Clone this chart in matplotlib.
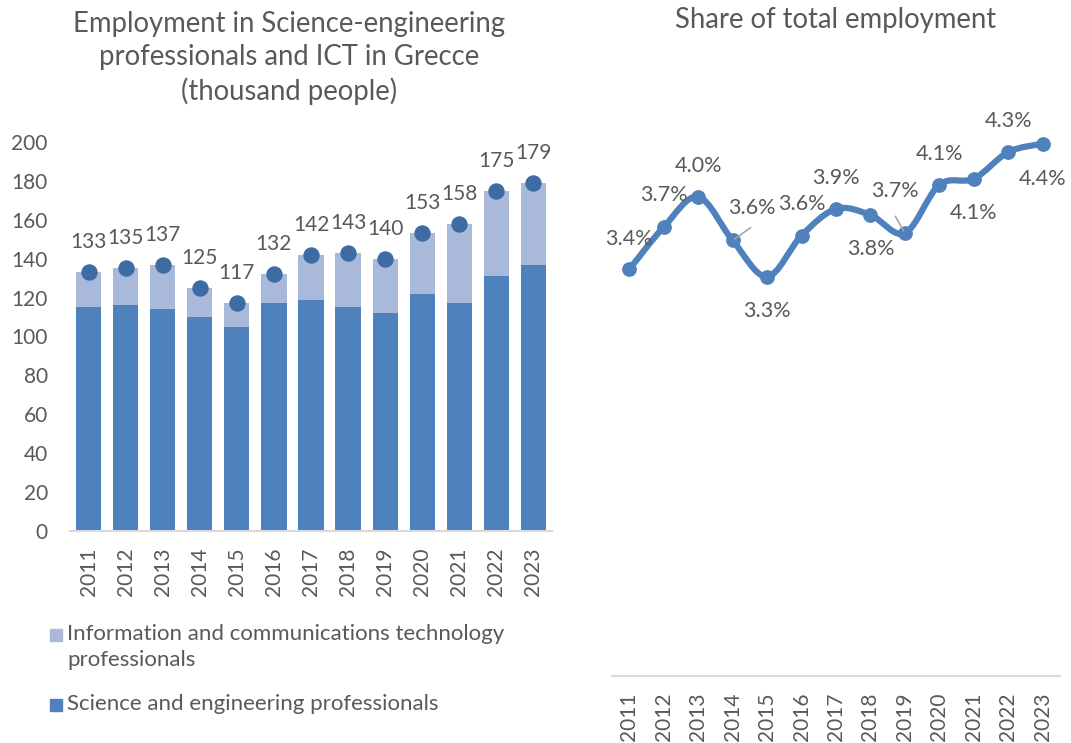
import matplotlib
matplotlib.use("Agg")
import matplotlib.pyplot as plt
from matplotlib.path import Path
from matplotlib.patches import PathPatch, Rectangle

plt.rcParams["font.family"] = ["Lato", "DejaVu Sans"]

TEXT = "#595959"
SE_COLOR = "#4F81BD"
ICT_COLOR = "#A9B9D9"
DOT_COLOR = "#3D6BA3"
AXIS_COLOR = "#D9D9D9"

years = ["2011", "2012", "2013", "2014", "2015", "2016", "2017",
         "2018", "2019", "2020", "2021", "2022", "2023"]
totals = [133, 135, 137, 125, 117, 132, 142, 143, 140, 153, 158, 175, 179]
science_eng = [115, 116, 114, 110, 105, 117, 119, 115, 112, 122, 117, 131, 137]
ict = [t - s for t, s in zip(totals, science_eng)]
share = [3.36, 3.71, 3.96, 3.60, 3.30, 3.64, 3.86, 3.81, 3.66, 4.06, 4.11, 4.33, 4.40]

# label offsets (pixels) for the share chart, like Excel's auto placement
share_offsets = [(0, 30), (0, 32), (0, 31), (19, 32), (0, -34), (0, 32), (0, 31),
                 (0, -34), (-10, 42), (0, 31), (0, -34), (0, 31), (0, -35)]
leader = [False, False, False, True, False, False, False,
          False, True, False, False, False, False]

W, H = 1071, 743
fig = plt.figure(figsize=(W / 100, H / 100), dpi=100)

x = list(range(len(years)))

# ---- left: stacked bars
ax = fig.add_axes([70 / W, 1 - 531 / H, 482 / W, 389 / H])
ax.bar(x, science_eng, width=0.68, color=SE_COLOR, zorder=2)
ax.bar(x, ict, width=0.68, bottom=science_eng, color=ICT_COLOR, zorder=2)
ax.plot(x, totals, linestyle="none", marker="o", markersize=10.8,
        color=DOT_COLOR, zorder=3)
for xi, t in zip(x, totals):
    ax.annotate(str(t), (xi, t), xytext=(0, 30), textcoords="offset pixels",
                ha="center", va="center", fontsize=15, color=TEXT)
ax.set_xlim(-0.5, len(years) - 0.5)
ax.set_ylim(0, 200)
ax.set_yticks(range(0, 201, 20))
ax.set_xticks(x)
ax.set_xticklabels(years, rotation=90)
ax.tick_params(axis="y", length=0, pad=16, labelsize=15, labelcolor=TEXT)
ax.tick_params(axis="x", length=0, pad=12, labelsize=15, labelcolor=TEXT)
for s in ["top", "right", "left"]:
    ax.spines[s].set_visible(False)
ax.spines["bottom"].set_color(AXIS_COLOR)
ax.spines["bottom"].set_linewidth(1.5)

fig.text(289 / W, 1 - 58 / H,
         "Employment in Science-engineering\nprofessionals and ICT in Grecce\n(thousand people)",
         ha="center", va="center", fontsize=19.8, color=TEXT, linespacing=1.33)

# legend drawn by hand so the square sits on the first text line
legend_items = [(ICT_COLOR, "Information and communications technology\nprofessionals", 635),
                (SE_COLOR, "Science and engineering professionals", 705)]
for col, lab, yc in legend_items:
    fig.add_artist(Rectangle((50 / W, 1 - (yc + 6) / H), 12 / W, 12 / H,
                             transform=fig.transFigure, color=col))
    fig.text(67 / W, 1 - (yc - 11) / H, lab, ha="left", va="top",
             fontsize=16, color=TEXT, linespacing=1.38)

# ---- right: smoothed share line
ax2 = fig.add_axes([612 / W, 1 - 676 / H, 448 / W, 605 / H])
n = len(share)
pts = list(zip(x, share))
verts = [pts[0]]
codes = [Path.MOVETO]
for i in range(n - 1):
    p0 = pts[max(i - 1, 0)]
    p1 = pts[i]
    p2 = pts[i + 1]
    p3 = pts[min(i + 2, n - 1)]
    c1 = (p1[0] + (p2[0] - p0[0]) / 6, p1[1] + (p2[1] - p0[1]) / 6)
    c2 = (p2[0] - (p3[0] - p1[0]) / 6, p2[1] - (p3[1] - p1[1]) / 6)
    verts += [c1, c2, p2]
    codes += [Path.CURVE4] * 3
ax2.add_patch(PathPatch(Path(verts, codes), fill=False, edgecolor=SE_COLOR,
                        linewidth=4.5, capstyle="round", joinstyle="round", zorder=2))
ax2.plot(x, share, linestyle="none", marker="o", markersize=9.6,
         color=SE_COLOR, zorder=3)
for xi, v, off, ld in zip(x, share, share_offsets, leader):
    ax2.annotate(f"{v:.1f}%", (xi, v), xytext=off, textcoords="offset pixels",
                 ha="center", va="center", fontsize=15.5, color=TEXT, zorder=4)
    if ld:
        ax2.annotate("", (xi, v), xytext=(off[0] * 0.95, off[1] * 0.4),
                     textcoords="offset pixels",
                     arrowprops=dict(arrowstyle="-", color="#A6A6A6", lw=1.2,
                                     shrinkA=0, shrinkB=2))
ax2.set_xlim(-0.5, n - 0.5)
ax2.set_ylim(0, 5)
ax2.set_yticks([])
ax2.set_xticks(x)
ax2.set_xticklabels(years, rotation=90)
ax2.tick_params(axis="x", length=0, pad=12, labelsize=15, labelcolor=TEXT)
for s in ["top", "right", "left"]:
    ax2.spines[s].set_visible(False)
ax2.spines["bottom"].set_color(AXIS_COLOR)
ax2.spines["bottom"].set_linewidth(1.5)
ax2.patch.set_alpha(0)

fig.text(836 / W, 1 - 20 / H, "Share of total employment", ha="center",
         va="center", fontsize=19.8, color=TEXT)

fig.savefig("out.png", dpi=100)
